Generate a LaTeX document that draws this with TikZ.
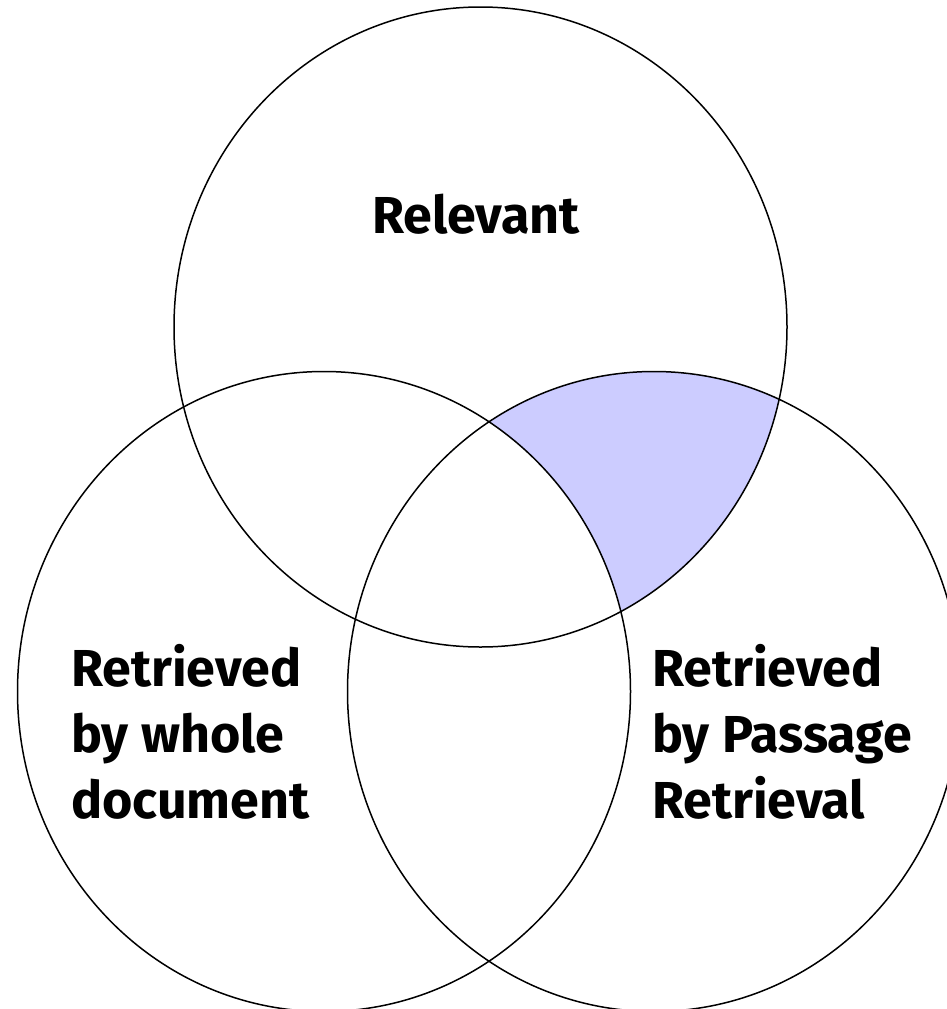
\documentclass[tikz,border=0pt]{standalone}
\usepackage{fontspec}
\setmainfont{Fira Sans}
\tikzset{
  setline/.style={draw=black, line width=1.5pt},
  setlabel/.style={inner sep=0pt, anchor=base west, align=left,
    font=\fontsize{52}{66}\selectfont\bfseries}
}
\begin{document}
\begin{tikzpicture}[x=1pt,y=-1pt]
  \useasboundingbox (0,0) rectangle (947,1009);
  \clip (0,0) rectangle (947,1009);
  % relevant documents that only passage retrieval finds
  \begin{scope}
    \clip (480.5,327) ellipse [x radius=306.5, y radius=320];
    \clip (654,691.5) ellipse [x radius=306.5, y radius=320];
    \fill[fill={rgb,255:red,204;green,204;blue,255}] (0,0) rectangle (947,1009);
    \fill[white] (324,691.5) ellipse [x radius=306.5, y radius=320];
  \end{scope}
  % the three sets
  \path[setline] (480.5,327) ellipse [x radius=306.5, y radius=320];
  \path[setline] (324,691.5) ellipse [x radius=306.5, y radius=320];
  \path[setline] (654,691.5) ellipse [x radius=306.5, y radius=320];
  % labels (anchored at the baseline of their last line)
  \node[setlabel] (rel) at (372,233) {Relevant};
  \node[setlabel] (doc) at (71,818) {Retrieved\\by whole\\document};
  \node[setlabel] (pas) at (652,818) {Retrieved\\by Passage\\Retrieval};
\end{tikzpicture}
\end{document}
